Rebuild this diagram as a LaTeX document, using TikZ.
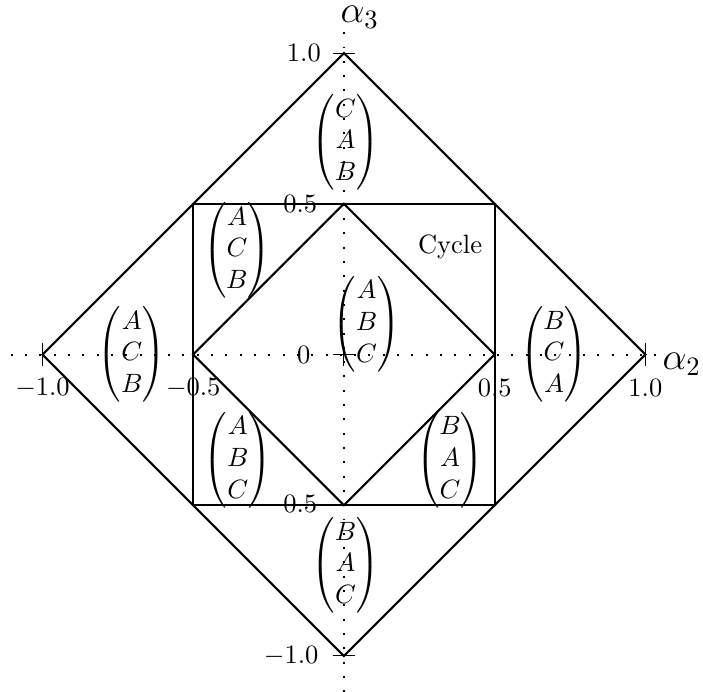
\documentclass[tikz,border=0pt]{standalone}
\usepackage{amsmath}
\begin{document}
\begin{tikzpicture}[x=4cm,y=4cm,
  region/.style={line width=0.8pt, line join=miter},
  axisline/.style={line width=0.75pt, dash pattern=on 0.75pt off 4.65pt},
  tickmark/.style={line width=0.4pt},
  lbl/.style={inner sep=0pt},
  mat/.style={inner sep=0pt}]
\useasboundingbox (-1.141,-1.119) rectangle (1.191,1.176);
% regions
\draw[region] (1,0) -- (0,1) -- (-1,0) -- (0,-1) -- cycle;
\draw[region] (-0.5,-0.5) rectangle (0.5,0.5);
\draw[region] (0.5,0) -- (0,0.5) -- (-0.5,0) -- (0,-0.5) -- cycle;
% matrices
\node[mat] (m1) at (0.005,0.703) {$\begin{pmatrix}C\\A\\B\end{pmatrix}$};
\node[mat] (m2) at (-0.355,0.345) {$\begin{pmatrix}A\\C\\B\end{pmatrix}$};
\node[mat] (m3) at (0.075,0.1) {$\begin{pmatrix}A\\B\\C\end{pmatrix}$};
\node[mat] (m4) at (-0.704,0) {$\begin{pmatrix}A\\C\\B\end{pmatrix}$};
\node[mat] (m5) at (0.697,0) {$\begin{pmatrix}B\\C\\A\end{pmatrix}$};
\node[mat] (m6) at (-0.352,-0.35) {$\begin{pmatrix}A\\B\\C\end{pmatrix}$};
\node[mat] (m7) at (0.352,-0.35) {$\begin{pmatrix}B\\A\\C\end{pmatrix}$};
\node[mat] (m8) at (0.005,-0.70) {$\begin{pmatrix}B\\A\\C\end{pmatrix}$};
\node[lbl] (cyc) at (0.352,0.357) {Cycle};
% axes
\coordinate (xl) at (-1.105,0);
\coordinate (xr) at (1.05,0);
\coordinate (yb) at (0,-1.12);
\coordinate (yt) at (0,1.07);
\draw[axisline] (xl) -- (xr);
\draw[axisline] (yb) -- (yt);
\node[lbl, anchor=base west] (ax2) at (1.055,-0.051) {\Large$\alpha_2$};
\node[lbl, anchor=base west] (ax3) at (-0.013,1.100) {\Large$\alpha_3$};
% ticks
\foreach \t in {-1,-0.5,0,0.5,1}{
  \draw[tickmark] (\t,-0.0375) -- (\t,0.0375);
  \draw[tickmark] (-0.0375,\t) -- (0.0375,\t);
}
% tick labels
\node[lbl] (tx1) at (-1.0,-0.11) {$-1.0$};
\node[lbl] (tx2) at (-0.5,-0.11) {$-0.5$};
\node[lbl] (tx3) at (0.5,-0.11) {$0.5$};
\node[lbl] (tx4) at (1.0,-0.11) {$1.0$};
\node[lbl, anchor=east] (ty1) at (-0.075,1.0) {$1.0$};
\node[lbl, anchor=east] (ty2) at (-0.087,0.5) {$0.5$};
\node[lbl, anchor=east] (ty3) at (-0.11,0) {$0$};
\node[lbl, anchor=east] (ty4) at (-0.087,-0.5) {$-0.5$};
\node[lbl, anchor=east] (ty5) at (-0.083,-1.0) {$-1.0$};
\end{tikzpicture}
\end{document}
